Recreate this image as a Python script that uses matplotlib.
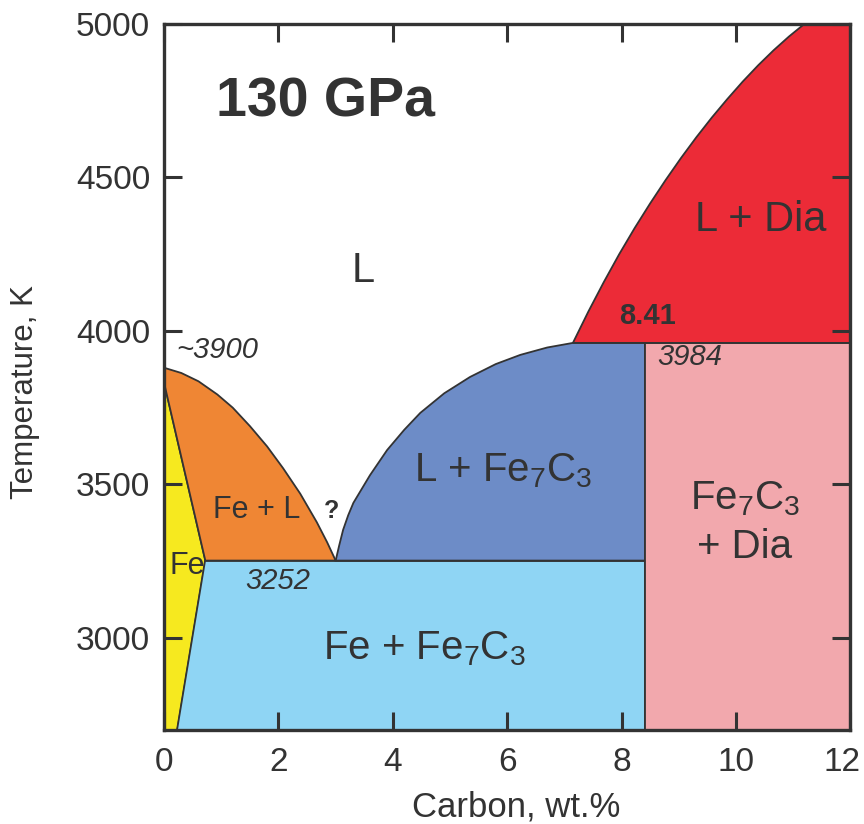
import matplotlib

matplotlib.use("Agg")
import matplotlib.pyplot as plt
import matplotlib.transforms as mtransforms

plt.rcParams["font.family"] = ["Liberation Sans", "DejaVu Sans"]
plt.rcParams["mathtext.fontset"] = "custom"
plt.rcParams["mathtext.rm"] = "Liberation Sans"
plt.rcParams["mathtext.it"] = "Liberation Sans:italic"
plt.rcParams["mathtext.bf"] = "Liberation Sans:bold"

# phase boundaries
t_min, t_max = 2700, 5000
x_max = 12
eutectic_t = 3252
peritectic_t = 3961
fe7c3_x = 8.41

fe_liq_x = [0.0, 0.3, 0.6, 0.93, 1.2, 1.5, 1.8, 2.08, 2.38, 2.67, 2.85, 3.0]
fe_liq_t = [3880, 3863, 3836, 3793, 3750, 3690, 3624, 3553, 3470, 3377, 3312, 3252]

fe_sol_x = [0.0, 0.72]
fe_sol_t = [3830, 3252]

fe_solvus_x = [0.72, 0.23]
fe_solvus_t = [3252, 2700]

fe7c3_liq_x = [3.0, 3.06, 3.13, 3.22, 3.31, 3.6, 3.9, 4.2, 4.48, 4.9, 5.35,
               5.8, 6.23, 6.7, 7.15]
fe7c3_liq_t = [3252, 3300, 3352, 3400, 3440, 3530, 3612, 3678, 3733, 3797,
               3850, 3892, 3922, 3946, 3961]

dia_liq_x = [7.15, 7.42, 7.69, 7.96, 8.23, 8.50, 8.77, 9.04, 9.31, 9.58, 9.85,
             10.12, 10.39, 10.66, 10.93, 11.20]
dia_liq_t = [3961, 4063, 4159, 4250, 4335, 4415, 4491, 4563, 4631, 4695, 4755,
             4812, 4865, 4914, 4959, 5000]

c_yellow = "#f6e91f"
c_orange = "#ef8634"
c_blue = "#6d8cc7"
c_lblue = "#8fd5f4"
c_pink = "#f2a8ad"
c_red = "#ec2b37"
c_line = "#333333"

fig = plt.figure(figsize=(8.64, 8.24), dpi=100)
ax = fig.add_axes([0.190, 0.114, 0.794, 0.857])

edge = dict(edgecolor=c_line, linewidth=1.3)

# Fe
ax.fill([0, fe_solvus_x[1], fe_solvus_x[0], 0],
        [t_min, fe_solvus_t[1], fe_solvus_t[0], fe_sol_t[0]],
        facecolor=c_yellow, **edge)
# Fe + L
ax.fill(fe_liq_x + fe_sol_x[::-1], fe_liq_t + fe_sol_t[::-1],
        facecolor=c_orange, **edge)
# Fe + Fe7C3
ax.fill([fe_solvus_x[1], fe7c3_x, fe7c3_x, fe_solvus_x[0]],
        [t_min, t_min, eutectic_t, eutectic_t],
        facecolor=c_lblue, **edge)
# L + Fe7C3
ax.fill(fe7c3_liq_x + [fe7c3_x, fe7c3_x],
        fe7c3_liq_t + [peritectic_t, eutectic_t],
        facecolor=c_blue, **edge)
# Fe7C3 + Dia
ax.fill([fe7c3_x, x_max, x_max, fe7c3_x],
        [t_min, t_min, peritectic_t, peritectic_t],
        facecolor=c_pink, **edge)
# L + Dia
ax.fill(dia_liq_x + [x_max, x_max],
        dia_liq_t + [t_max, peritectic_t],
        facecolor=c_red, **edge)

ax.set_xlim(0, x_max)
ax.set_ylim(t_min, t_max)
ax.set_xticks(range(0, 13, 2))
ax.set_yticks(range(3000, 5001, 500))
ax.tick_params(direction="in", length=13, width=2.2, color=c_line,
               labelsize=24, labelcolor="#333333", top=True, right=True)
ax.tick_params(axis="x", pad=12)
ax.tick_params(axis="y", pad=10)
for s in ax.spines.values():
    s.set_linewidth(2.4)
    s.set_color(c_line)
    s.set_zorder(5)

ax.set_xlabel("Carbon, wt.%", fontsize=25, color="#333333")
ax.xaxis.set_label_coords(0.513, -0.085)
ax.set_ylabel("Temperature, K", fontsize=22.5, color="#333333")
ax.yaxis.set_label_coords(-0.181, 0.479)

tc = "#333333"
ax.text(2.83, 4743, "130 GPa", fontsize=40, fontweight="bold", color=tc,
        ha="center", va="center")
ax.text(3.48, 4196, "L", fontsize=30, color=tc, ha="center", va="center")
ax.text(10.44, 4362, "L + Dia", fontsize=30, color=tc, ha="center", va="center")
ax.text(5.93, 3545, r"L + Fe$_\mathregular{7}$C$_\mathregular{3}$", fontsize=29,
        color=tc, ha="center", va="center")
ax.text(4.55, 2965, r"Fe + Fe$_\mathregular{7}$C$_\mathregular{3}$", fontsize=29,
        color=tc, ha="center", va="center")
ax.text(10.16, 3375, "Fe$_\\mathregular{7}$C$_\\mathregular{3}$\n+ Dia", fontsize=29,
        color=tc, ha="center", va="center", linespacing=1.35)
ax.text(1.61, 3417, "Fe + L", fontsize=22, color=tc, ha="center", va="center")
ax.text(2.92, 3414, "?", fontsize=18, fontweight="bold", color=tc,
        ha="center", va="center")
ax.text(0.1, 3235, "Fe", fontsize=22, color=tc, ha="left", va="center")
ax.text(1.98, 3186, "3252", fontsize=21, style="italic", color=tc,
        ha="center", va="center")
ax.text(0.93, 3938, "~3900", fontsize=21, style="italic", color=tc,
        ha="center", va="center")
ax.text(9.2, 3915, "3984", fontsize=21, style="italic", color=tc,
        ha="center", va="center")
ax.text(8.45, 4049, "8.41", fontsize=21, fontweight="bold", color=tc,
        ha="center", va="center")

# keep the last x tick label inside the canvas
last = ax.xaxis.get_major_ticks()[-1].label1
last.set_transform(last.get_transform()
                   + mtransforms.ScaledTranslation(-8 / 100, 0, fig.dpi_scale_trans))

fig.savefig("out.png", dpi=100)
plt.close(fig)
